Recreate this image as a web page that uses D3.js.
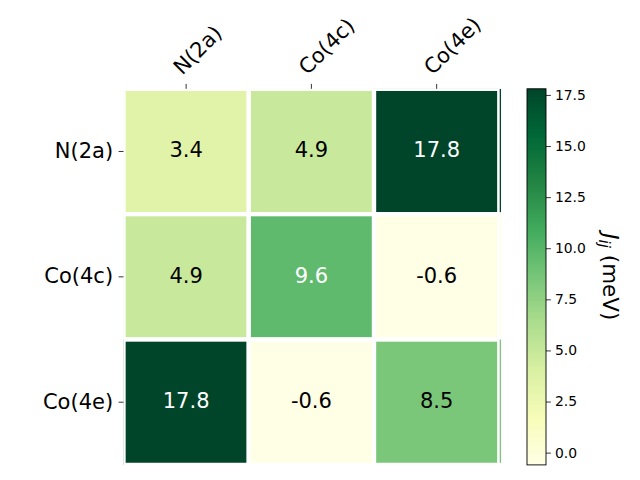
<!DOCTYPE html>
<html>
<head>
<meta charset="utf-8">
<script src="https://cdn.jsdelivr.net/npm/d3@7"></script>
<style>
  body { margin: 0; background: #fff; }
  svg { display: block; }
  text { font-family: "DejaVu Sans", sans-serif; }
</style>
</head>
<body>
<svg id="chart" width="640" height="480"></svg>
<script>
// ---- data ----
const labels = ["N(2a)", "Co(4c)", "Co(4e)"];
const rowN2a = [3.4, 4.9, 17.8];
const rowCo4c = [4.9, 9.6, -0.6];
const rowCo4e = [17.8, -0.6, 8.5];
const matrix = [rowN2a, rowCo4c, rowCo4e];
const cbTicks = [0.0, 2.5, 5.0, 7.5, 10.0, 12.5, 15.0, 17.5];
const ylgn = ["#ffffe5", "#f7fcb9", "#d9f0a3", "#addd8e", "#78c679", "#41ab5d", "#238443", "#006837", "#004529"];

// ---- layout ----
const svg = d3.select("#chart");
const ax = { x: 123.5, y: 88.8, w: 375.8, h: 376.1 };
const cb = { x: 527, y: 88.8, w: 19, h: 376.1 };
const fmt = d3.formatLocale({ decimal: ".", thousands: ",", grouping: [3], currency: ["", ""], minus: "-" }).format(".1f");

const cells = [];
matrix.forEach((row, i) => row.forEach((v, j) => cells.push({ i, j, v })));
const vmin = d3.min(cells, d => d.v), vmax = d3.max(cells, d => d.v);

const color = d3.scaleLinear()
  .domain(ylgn.map((_, k) => vmin + (vmax - vmin) * k / (ylgn.length - 1)))
  .range(ylgn)
  .interpolate(d3.interpolateRgb);

const x = d3.scaleBand().domain(labels).range([ax.x, ax.x + ax.w]);
const y = d3.scaleBand().domain(labels).range([ax.y, ax.y + ax.h]);

// clip
svg.append("defs").append("clipPath").attr("id", "axclip")
  .append("rect").attr("x", ax.x).attr("y", ax.y).attr("width", ax.w + 2).attr("height", ax.h);

const g = svg.append("g").attr("clip-path", "url(#axclip)");
g.selectAll("rect.cell").data(cells).join("rect")
  .attr("class", "cell")
  .attr("x", d => x(labels[d.j]))
  .attr("y", d => y(labels[d.i]))
  .attr("width", x.bandwidth())
  .attr("height", y.bandwidth())
  .attr("fill", d => color(d.v))
  .attr("stroke", "#fff")
  .attr("stroke-width", 4.3);

// thin edge sliver on right side
g.selectAll("rect.sliver").data(cells.filter(d => d.j === labels.length - 1)).join("rect")
  .attr("class", "sliver")
  .attr("x", ax.x + ax.w + 0.4)
  .attr("y", d => y(labels[d.i]))
  .attr("width", 1.3)
  .attr("height", y.bandwidth() - 2)
  .attr("fill", d => color(d.v));

// annotations
function lum(c) {
  const r = d3.rgb(c);
  const f = u => { u /= 255; return u <= 0.03928 ? u / 12.92 : Math.pow((u + 0.055) / 1.055, 2.4); };
  return 0.2126 * f(r.r) + 0.7152 * f(r.g) + 0.0722 * f(r.b);
}
svg.selectAll("text.ann").data(cells).join("text")
  .attr("class", "ann")
  .attr("x", d => x(labels[d.j]) + x.bandwidth() / 2)
  .attr("y", d => y(labels[d.i]) + y.bandwidth() / 2)
  .attr("dy", "0.28em")
  .attr("text-anchor", "middle")
  .attr("font-size", "21px")
  .attr("fill", d => lum(color(d.v)) > 0.408 ? "#000" : "#fff")
  .text(d => fmt(d.v));

// x axis (top)
const xAxis = svg.append("g").attr("transform", `translate(0,${ax.y})`)
  .call(d3.axisTop(x).tickSize(4.9).tickSizeOuter(0));
xAxis.select(".domain").remove();
xAxis.selectAll(".tick line").attr("stroke", "#000").attr("stroke-width", 0.8);
xAxis.selectAll(".tick text")
  .attr("x", 0).attr("y", 0).attr("dy", null)
  .attr("text-anchor", "start")
  .attr("transform", "translate(-4,-13) rotate(-45)")
  .attr("font-size", "21px")
  .attr("font-family", "DejaVu Sans, sans-serif")
  .attr("fill", "#000");

// y axis (left)
const yAxis = svg.append("g").attr("transform", `translate(${ax.x},0)`)
  .call(d3.axisLeft(y).tickSize(4.9).tickPadding(5.5).tickSizeOuter(0));
yAxis.select(".domain").remove();
yAxis.selectAll(".tick line").attr("stroke", "#000").attr("stroke-width", 0.8);
yAxis.selectAll(".tick text")
  .attr("dy", "0.3em")
  .attr("font-size", "21px")
  .attr("font-family", "DejaVu Sans, sans-serif")
  .attr("fill", "#000");

// colorbar
const grad = svg.select("defs").append("linearGradient").attr("id", "cbgrad")
  .attr("x1", 0).attr("y1", 1).attr("x2", 0).attr("y2", 0);
grad.selectAll("stop").data(ylgn).join("stop")
  .attr("offset", (d, k) => k / (ylgn.length - 1))
  .attr("stop-color", d => d);

svg.append("rect")
  .attr("x", cb.x).attr("y", cb.y).attr("width", cb.w).attr("height", cb.h)
  .attr("fill", "url(#cbgrad)")
  .attr("stroke", "#000").attr("stroke-width", 0.9);

const cbScale = d3.scaleLinear().domain([vmin, vmax]).range([cb.y + cb.h, cb.y]);
const cbAxis = svg.append("g").attr("transform", `translate(${cb.x + cb.w},0)`)
  .call(d3.axisRight(cbScale).tickValues(cbTicks).tickFormat(fmt)
    .tickSize(4.9).tickPadding(4).tickSizeOuter(0));
cbAxis.select(".domain").remove();
cbAxis.selectAll(".tick line").attr("stroke", "#000").attr("stroke-width", 0.8);
cbAxis.selectAll(".tick text")
  .attr("font-size", "13.9px")
  .attr("font-family", "DejaVu Sans, sans-serif")
  .attr("fill", "#000");

// colorbar label
const lbl = svg.append("text")
  .attr("transform", `translate(603,${cb.y + cb.h / 2}) rotate(90)`)
  .attr("text-anchor", "middle")
  .attr("font-size", "21.5px")
  .attr("fill", "#000");
lbl.append("tspan").attr("font-style", "italic").text("J");
lbl.append("tspan").attr("font-style", "italic").attr("font-size", "15px").attr("dy", "4").text("ij");
lbl.append("tspan").attr("dy", "-4").text(" (meV)");
</script>
</body>
</html>
